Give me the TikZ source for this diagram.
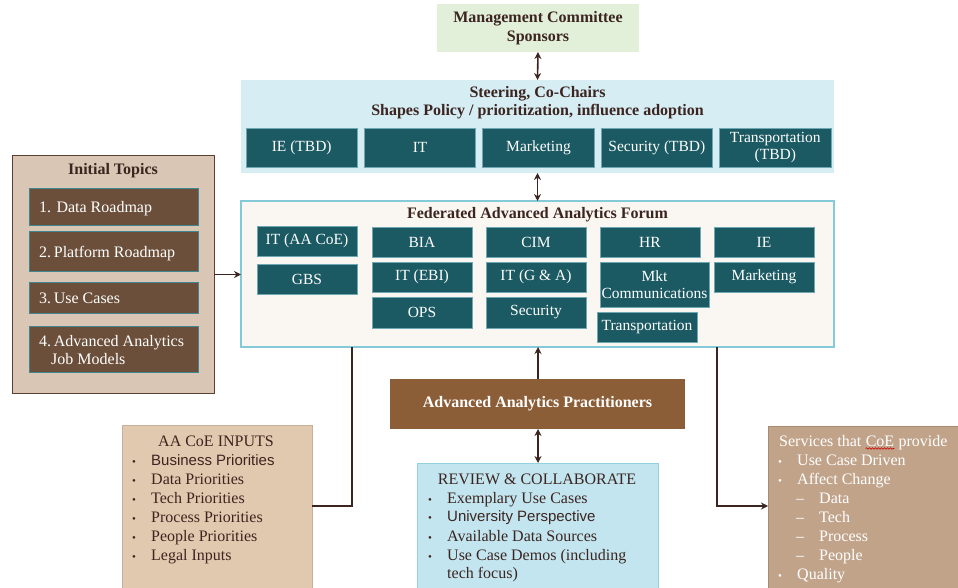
\documentclass[tikz,border=0pt]{standalone}
\usepackage{fontspec}
\setmainfont{Liberation Serif}
\newfontfamily\arialf{Liberation Sans}
\usetikzlibrary{arrows.meta,decorations.pathmorphing}
\definecolor{mgmtfill}{HTML}{E2F0D9}
\definecolor{steerfill}{HTML}{D5EDF3}
\definecolor{tealc}{HTML}{1B5963}
\definecolor{tealb}{HTML}{6FA8B2}
\definecolor{fedfill}{HTML}{FAF6F1}
\definecolor{fedborder}{HTML}{84CAD8}
\definecolor{initfill}{HTML}{D9C6B4}
\definecolor{initborder}{HTML}{5B3F33}
\definecolor{itemfill}{HTML}{6B4F3A}
\definecolor{itemborder}{HTML}{3E8793}
\definecolor{aafill}{HTML}{E1C9AF}
\definecolor{aaborder}{HTML}{C7AF98}
\definecolor{pracfill}{HTML}{8C5E38}
\definecolor{revfill}{HTML}{C2E5EF}
\definecolor{revborder}{HTML}{92D1DF}
\definecolor{servfill}{HTML}{C1A38A}
\definecolor{servborder}{HTML}{A88B74}
\definecolor{arrc}{HTML}{3C2520}
\definecolor{textdark}{HTML}{3C2520}
\newcommand{\mybox}[7]{\node[#1, minimum width={(#5-#3)*1pt}, minimum height={(#6-#4)*1pt}] (#2) at ({(#3+#5)/2},{(#4+#6)/2}) {#7};}
\begin{document}
\begin{tikzpicture}[x=1pt,y=-1pt,
  box/.style={inner sep=0pt, outer sep=0pt},
  tealbox/.style={box, fill=tealc, draw=tealb, line width=0.8pt, text=white, align=center, font=\fontsize{15.5}{16.5}\selectfont},
  itembox/.style={box, fill=itemfill, draw=itemborder, line width=0.9pt},
  txt/.style={inner sep=0pt, anchor=base west, text=textdark, font=\fontsize{16}{19}\selectfont},
  wtxt/.style={txt, text=white},
  ttl/.style={inner sep=0pt, text=textdark, align=center, font=\fontsize{16}{18.5}\selectfont\bfseries},
  conn/.style={draw=arrc, line width=1.6pt},
  onehead/.style={conn, -{Stealth[length=7pt,width=7pt]}},
  twohead/.style={conn, {Stealth[length=7pt,width=7pt]}-{Stealth[length=7pt,width=7pt]}}
]
\useasboundingbox (0,0) rectangle (958,588);
\clip (0,0) rectangle (958,588);

% Management
\mybox{box, fill=mgmtfill, text=textdark, align=center, font=\fontsize{16}{19}\selectfont\bfseries}{mgmt}{437}{4}{639}{52}{Management Committee\\Sponsors}

% Steering
\mybox{box, fill=steerfill}{steer}{241}{80}{834}{173}{}
\node[ttl] (steertitle) at (537.5,102.5) {Steering, Co-Chairs\\Shapes Policy / prioritization, influence adoption};
\mybox{tealbox}{s1}{246}{128}{357.4}{167}{IE (TBD)}
\mybox{tealbox}{s2}{364.4}{128}{475.8}{167}{IT}
\mybox{tealbox}{s3}{482.8}{128}{594.2}{167}{Marketing}
\mybox{tealbox}{s4}{601.2}{128}{712.6}{167}{Security (TBD)}
\mybox{tealbox}{s5}{719.6}{128}{831}{167}{Transportation\\(TBD)}

% Federated forum
\mybox{box, fill=fedfill, draw=fedborder, line width=1.4pt}{fed}{241}{201}{834}{347}{}
\node[ttl] (fedtitle) at (537.5,215) {Federated Advanced Analytics Forum};
\mybox{tealbox}{f1}{257}{226}{357}{256}{IT (AA CoE)}
\mybox{tealbox}{f2}{372}{227}{472}{257}{BIA}
\mybox{tealbox}{f3}{486}{227}{586}{257}{CIM}
\mybox{tealbox}{f4}{600}{227}{700}{257}{HR}
\mybox{tealbox}{f5}{714}{227}{814}{257}{IE}
\mybox{tealbox}{f6}{257}{264}{357}{294}{GBS}
\mybox{tealbox}{f7}{372}{262}{472}{292}{IT (EBI)}
\mybox{tealbox}{f8}{486}{262}{586}{292}{IT (G \& A)}
\mybox{tealbox}{f9}{600}{262}{709}{307}{Mkt\\Communications}
\mybox{tealbox}{f10}{714}{262}{814}{292}{Marketing}
\mybox{tealbox}{f11}{372}{297}{472}{328}{OPS}
\mybox{tealbox}{f12}{486}{297}{586}{328}{Security}
\mybox{tealbox}{f13}{597}{312}{697}{342}{Transportation}

% Initial topics
\mybox{box, fill=initfill, draw=initborder, line width=1pt}{init}{12}{156}{214}{393}{}
\node[ttl] (inittitle) at (113,171) {Initial Topics};
\mybox{itembox}{i1}{29}{188}{198}{225}{}
\mybox{itembox}{i2}{29}{231}{198}{271}{}
\mybox{itembox}{i3}{29}{282}{198}{313}{}
\mybox{itembox}{i4}{29}{326}{198}{372}{}
\node[wtxt] (i1t) at (39,212) {1. Data Roadmap};
\node[wtxt] (i2t) at (39,257) {2.\,Platform Roadmap};
\node[wtxt] (i3t) at (39,303) {3.\,Use Cases};
\node[wtxt] (i4t) at (39,346) {4.\,Advanced Analytics};
\node[wtxt] (i4u) at (51,364) {Job Models};

% AA CoE inputs
\mybox{box, fill=aafill, draw=aaborder, line width=1pt}{aa}{122}{425}{312}{600}{}
\node[txt, anchor=base] (aatitle) at (216,446) {AA CoE INPUTS};
\foreach \yy/\tt/\nm in {465/{\arialf\fontsize{15}{18}\selectfont Business Priorities}/a1, 484/Data Priorities/a2, 503/Tech Priorities/a3, 522/Process Priorities/a4, 541/People Priorities/a5, 560/Legal Inputs/a6}{
  \node[txt] (\nm b) at (132,\yy) {\fontsize{11}{12}\selectfont\textbullet};
  \node[txt] (\nm) at (151,\yy) {\tt};
}

% Practitioners
\mybox{box, fill=pracfill, text=white, font=\fontsize{16}{19}\selectfont\bfseries}{prac}{390}{379}{685}{429}{Advanced Analytics Practitioners}

% Review
\mybox{box, fill=revfill, draw=revborder, line width=1pt}{rev}{417}{463}{658}{600}{}
\node[txt, anchor=base] (revtitle) at (537,484) {REVIEW \& COLLABORATE};
\foreach \yy/\tt/\nm in {503/Exemplary Use Cases/r1, 521/{\arialf\fontsize{15}{18}\selectfont University Perspective}/r2, 541/Available Data Sources/r3, 560/Use Case Demos (including/r4}{
  \node[txt] (\nm b) at (428,\yy) {\fontsize{11}{12}\selectfont\textbullet};
  \node[txt] (\nm) at (447,\yy) {\tt};
}
\node[txt] (r5) at (447,578) {tech focus)};

% Services
\mybox{box, fill=servfill, draw=servborder, line width=1pt}{serv}{768}{426}{970}{600}{}
\node[wtxt] (svt) at (779,446) {Services that};
\node[wtxt] (svc) at ([xshift=4pt]svt.base east) {CoE};
\node[wtxt] (svp) at ([xshift=4pt]svc.base east) {provide};
\draw[red!80!black, line width=0.6pt, decorate, decoration={snake, amplitude=0.8pt, segment length=3pt}] ([yshift=-2.5pt]svc.base west) -- ([yshift=-2.5pt]svc.base east);
\foreach \yy/\tt/\nm in {465/Use Case Driven/v1, 484/Affect Change/v2, 579/Quality/v7}{
  \node[wtxt] (\nm b) at (778,\yy) {\fontsize{11}{12}\selectfont\textbullet};
  \node[wtxt] (\nm) at (797,\yy) {\tt};
}
\foreach \yy/\tt/\nm in {503/Data/v3, 522/Tech/v4, 541/Process/v5, 560/People/v6}{
  \node[wtxt] (\nm d) at (796,\yy) {--};
  \node[wtxt] (\nm) at (819,\yy) {\tt};
}

% Connectors
\coordinate (lx) at (352,506);
\coordinate (rx) at (717,506);
\draw[twohead] (mgmt.south) -- (steer.north);
\draw[twohead] (steer.south) -- (fed.north);
\draw[onehead] (init.east |- 0,274.5) -- (fed.west |- 0,274.5);
\draw[onehead] (prac.north -| 538,0) -- (fed.south -| 538,0);
\draw[twohead] (prac.south -| 538,0) -- (rev.north -| 538,0);
\draw[conn] (fed.south -| lx) |- (aa.east |- lx);
\draw[onehead] (fed.south -| rx) |- (serv.west |- rx);
\end{tikzpicture}
\end{document}
